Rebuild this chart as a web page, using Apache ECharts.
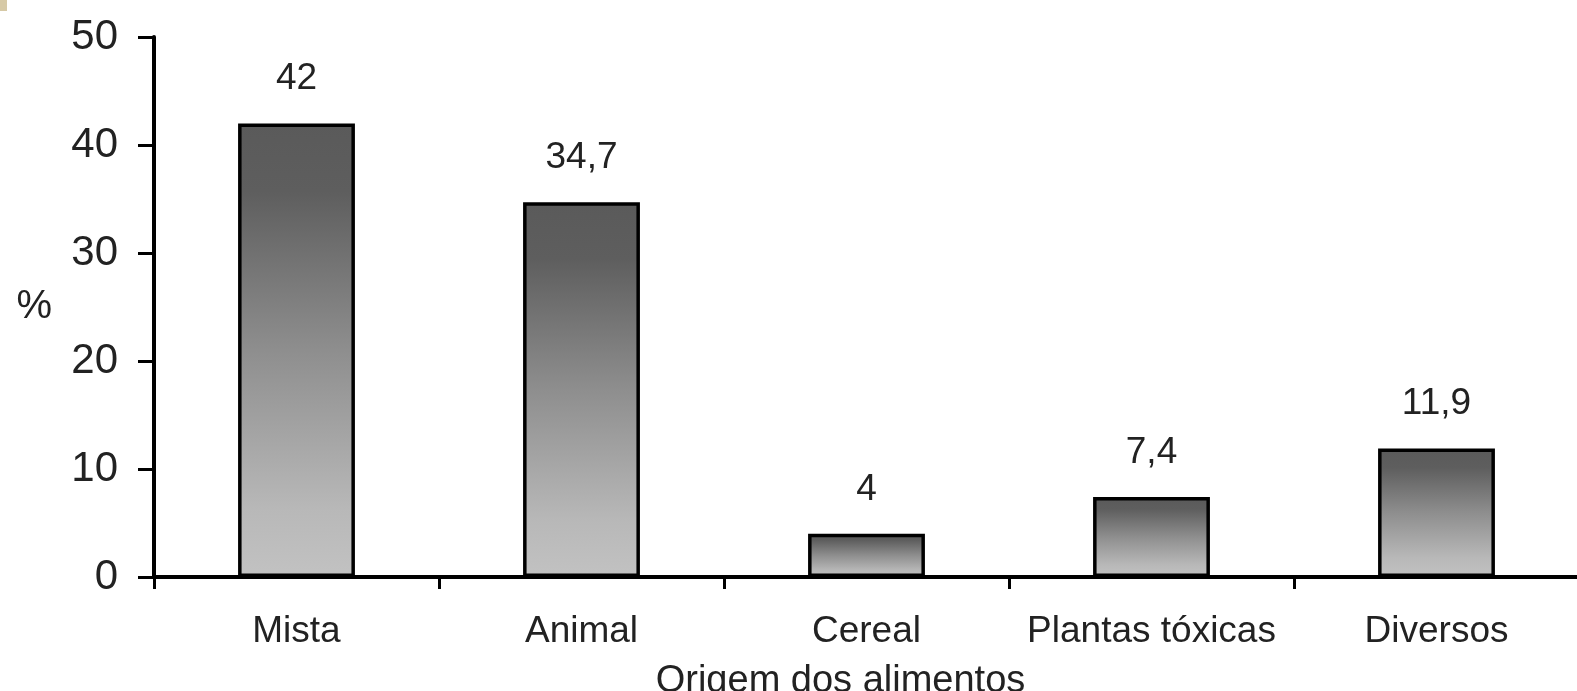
<!DOCTYPE html>
<html>
<head>
<meta charset="utf-8">
<script src="https://cdn.jsdelivr.net/npm/echarts@6/dist/echarts.min.js"></script>
<style>
html,body{margin:0;padding:0;background:#fff;}
#chart{width:1577px;height:691px;}
</style>
</head>
<body>
<div id="chart"></div>
<script>
const categories = ['Mista', 'Animal', 'Cereal', 'Plantas tóxicas', 'Diversos'];
const values = [42, 34.7, 4, 7.4, 11.9];
const valueLabels = ['42', '34,7', '4', '7,4', '11,9'];
const yTicks = [0, 10, 20, 30, 40, 50];

const chart = echarts.init(document.getElementById('chart'));
const font = 'Liberation Sans, Arial, sans-serif';
const option = {
  backgroundColor: '#ffffff',
  animation: false,
  graphic: [{
    type: 'rect', left: 0, top: 0, shape: {width: 7, height: 11},
    style: {fill: '#d6c9a6'}
  }],
  grid: {left: 154, right: -2, top: 37, bottom: 114, containLabel: false, outerBoundsMode: 'none'},
  xAxis: {
    type: 'category',
    data: categories,
    name: 'Origem dos alimentos',
    nameLocation: 'middle',
    nameGap: 86,
    nameTextStyle: {fontFamily: font, fontSize: 38, color: '#222', padding: [0, 52, 0, 0]},
    axisLine: {lineStyle: {color: '#000', width: 4}},
    axisTick: {show: true, interval: 0, length: 12, lineStyle: {color: '#000', width: 3}, alignWithLabel: false},
    axisLabel: {fontFamily: font, fontSize: 37, color: '#222', margin: 36, interval: 0, hideOverlap: false}
  },
  yAxis: {
    type: 'value',
    min: 0, max: 50, interval: 10,
    name: '%',
    nameLocation: 'middle',
    nameRotate: 0,
    nameGap: 102,
    nameTextStyle: {fontFamily: font, fontSize: 40, color: '#222'},
    splitLine: {show: false},
    axisLine: {show: true, lineStyle: {color: '#000', width: 4}},
    axisTick: {show: true, length: 16, lineStyle: {color: '#000', width: 3}},
    axisLabel: {
      fontFamily: font, fontSize: 42, color: '#222', margin: 36,
      formatter: function (v) { return yTicks.indexOf(v) >= 0 ? String(v) : ''; }
    }
  },
  series: [{
    type: 'bar',
    data: values,
    barWidth: '41%',
    itemStyle: {
      color: new echarts.graphic.LinearGradient(0, 0, 0, 1, [
        {offset: 0, color: '#5a5a5a'},
        {offset: 0.15, color: '#5e5e5e'},
        {offset: 0.5, color: '#8e8e8e'},
        {offset: 0.85, color: '#b8b8b8'},
        {offset: 1, color: '#c2c2c2'}
      ]),
      borderColor: '#000',
      borderWidth: 3.5
    },
    label: {
      show: true,
      position: 'top',
      distance: 26,
      fontFamily: font,
      fontSize: 37,
      color: '#222',
      formatter: function (p) { return valueLabels[p.dataIndex]; }
    }
  }]
};
chart.setOption(option);
</script>
</body>
</html>
